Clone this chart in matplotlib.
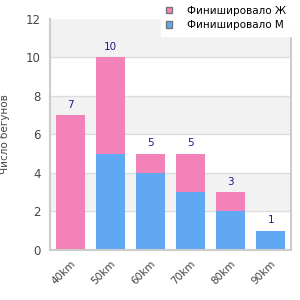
import numpy as np
import matplotlib.pyplot as plt

categories = ["40km", "50km", "60km", "70km", "80km", "90km"]
finished_m = [0, 5, 4, 3, 2, 1]
finished_f = [7, 5, 1, 2, 1, 0]
totals = [7, 10, 5, 5, 3, 1]

pink = "#f282b8"
blue = "#60a8f2"

fig = plt.figure(figsize=(3, 3), dpi=100)
ax = fig.add_axes([0.167, 0.167, 0.803, 0.77])

x = np.arange(len(categories))
ax.set_xlim(-0.5, len(categories) - 0.5)
ax.set_ylim(0, 12)

# alternating bands
for y0 in range(2, 12, 4):
    ax.axhspan(y0, y0 + 2, color="#f2f2f2", zorder=0, lw=0)
for y in range(2, 12, 2):
    ax.axhline(y, color="#dddddd", lw=1, zorder=1)

ax.bar(x, finished_m, width=0.72, color=blue, zorder=2, label="Финишировало М")
ax.bar(x, finished_f, width=0.72, bottom=finished_m, color=pink, zorder=2,
       label="Финишировало Ж")

for xi, t in zip(x, totals):
    ax.text(xi, t + 0.28, str(t), ha="center", va="bottom", color="#1a1a8c", fontsize=7.5)

ax.set_xticks(x)
ax.set_xticklabels(categories, rotation=45, ha="right", rotation_mode="anchor",
                   fontsize=7.5, color="#444444")
ax.set_yticks(range(0, 13, 2))
ax.tick_params(axis="y", labelsize=8.5, colors="#444444", length=0, pad=7)
ax.tick_params(axis="x", length=0, pad=6)
ax.set_ylabel("Число бегунов", fontsize=7.5, color="#444444")
ax.yaxis.set_label_coords(-0.168, 0.5)

for s in ["top"]:
    ax.spines[s].set_visible(False)
for s in ["left", "bottom", "right"]:
    ax.spines[s].set_color("#cccccc")
    ax.spines[s].set_linewidth(1.5)

h, l = ax.get_legend_handles_labels()
leg = fig.legend(h[::-1], l[::-1], loc="upper left", bbox_to_anchor=(0.535, 1.0),
                 fontsize=7.5, frameon=True, fancybox=False, borderaxespad=0,
                 handlelength=0.6, handleheight=0.6, labelspacing=0.45, handletextpad=1.35,
                 borderpad=0.55)
leg.get_frame().set_edgecolor("white")
leg.get_frame().set_alpha(1)
for p in leg.get_patches():
    p.set_edgecolor("#777777")

fig.savefig("out.png", dpi=100)
